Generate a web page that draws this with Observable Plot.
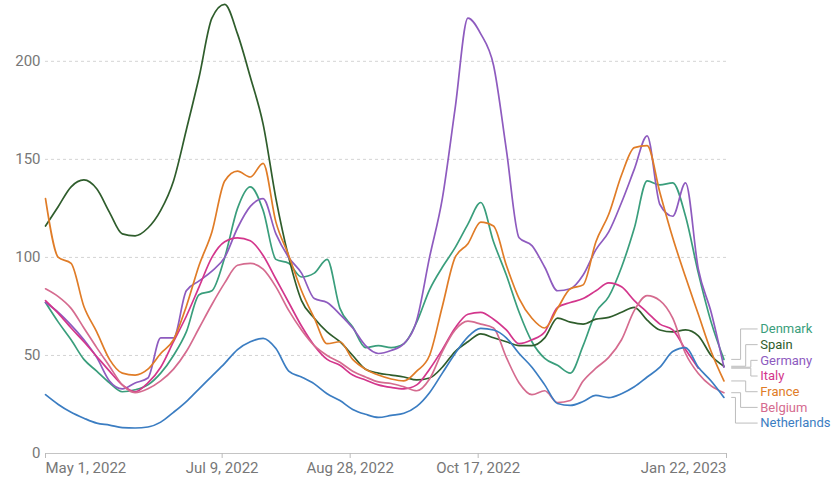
<!DOCTYPE html>
<html>
<head>
<meta charset="utf-8">
<script src="https://cdn.jsdelivr.net/npm/d3@7"></script>
<script src="https://cdn.jsdelivr.net/npm/@observablehq/plot@0.6"></script>
<style>
  html, body { margin: 0; padding: 0; background: #fff; }
  #chart svg { display: block; }
</style>
</head>
<body>
<div id="chart"></div>
<script>
// ---- data (5-day samples starting May 1, 2022) ----
const startDate = "2022-05-01";
const stepDays = 5;
const axisEnd = "2023-01-22";

const countries = ["Denmark", "Spain", "Germany", "Italy", "France", "Belgium", "Netherlands"];
const colors = ["#3a9e7c", "#2f5d2c", "#8e5bbf", "#d3368c", "#e07c27", "#d56b8f", "#3b7dc2"];

const denmark = [77,67,58,48,42,36,31.5,32.5,35,41,50,62,81,83,100,125,136,124,99,97,90,92,99,74,64.5,54,55,54,56,67,83.5,95,105,117,128,108,91,72,57,48.5,45,41,55,72,80,95,115,139,137,138,121,92,67,48];
const spain = [116,126,136,139.5,135,123,112,111,115,124,139,165,192,222,229,214,192,168,130,100,78,69,62,57,50,43,41,40,39,37.5,38.5,44,52,57,61,59,57,55,55,59,69,67,66,68.5,69.4,72,74.5,68,63,62,63,60,50,44.5];
const germany = [77,72,65.5,58,49,37,33,36,38.5,59,59,83,88,93,100,115,126,130,112,100,92,79,77,71,64,55,51,52.5,56,68,100,130,176,222,214,198,155,110,106,95,83,84,91,104,113,128,145,162,127,121,138,94,72,44];
const italy = [78,71.5,64,57,49.5,42,35,31.5,36,44,57,70,85,100,108,110,108.5,101,89,77,65,55,48,45,40,37.5,35,33.7,33,35,43,53,64,71,72,68.5,63,56,58,62,74.5,77,79,83,87,85,78,72,66,63,53,43.5,null,null];
const france = [130,100,97,75,62,48,41,40,43,51,58,75,96,113,139,144,141,148,118,101,83,69,56,57,48,43,40,38,37,42,50,75,100,107,118,116,96,79,69,64,74,84,86,108,122,142,156,157,133,110,90,71,52,37];
const belgium = [84,80,74,64,54,44.5,35,31,33,37,43,52,64,76,87,96,97,94,85,73,63,55,50,46.5,42,39,36.5,35.7,34,32,38,52,63,67.5,66,64,49,36,30,32,26,27,37,43.5,49,58,73,80.5,78,69,51,40.8,34.5,31];
const netherlands = [30,25,21,18,15.5,14.5,13.2,13,13.5,16,21,26.5,33,39.5,46,53,57,58.7,53.5,42,39,35.5,30.5,27,22.5,20,18.4,19.4,20.5,24,31,41,51,59.5,63.8,63,59,51,44,35,25.5,24.5,26.5,29.6,28.5,30.5,34,39,44,52,54,44,37,28.6];

const xTicks = ["2022-05-01", "2022-07-09", "2022-08-28", "2022-10-17", "2023-01-22"];
const yTicks = [0, 50, 100, 150, 200];

// ---- build tables ----
const series = [denmark, spain, germany, italy, france, belgium, netherlands];
const t0 = new Date(startDate);
const tEnd = new Date(axisEnd);
const rows = [];
series.forEach((vals, k) => {
  vals.forEach((v, i) => {
    rows.push({country: countries[k], date: d3.utcDay.offset(t0, i * stepDays), value: v == null ? NaN : v});
  });
});

// label placement (resolve overlaps, keep centred on targets)
const gap = 8;
const items = countries.map((c, k) => {
  const vals = series[k].filter(v => v != null);
  return {country: c, last: vals[vals.length - 1]};
}).sort((a, b) => b.last - a.last);
let clusters = items.map(it => ({items: [it]}));
const span = cl => {
  const c = d3.mean(cl.items, d => d.last);
  const h = (cl.items.length - 1) / 2 * gap;
  return {top: c + h, bottom: c - h};
};
let merged = true;
while (merged) {
  merged = false;
  for (let i = 0; i < clusters.length - 1; i++) {
    if (span(clusters[i]).bottom - span(clusters[i + 1]).top < gap) {
      clusters[i].items = clusters[i].items.concat(clusters[i + 1].items);
      clusters.splice(i + 1, 1);
      merged = true;
      break;
    }
  }
}
clusters.forEach(cl => {
  const s = span(cl);
  cl.items.forEach((it, j) => { it.labelY = s.top - j * gap; });
});
const n = items.length;
const leaders = [];
items.forEach((it, r) => {
  const elbow = 10.5 - 2 * Math.abs(r - (n - 2) / 2);
  const xs = d3.utcDay.offset(tEnd, 2);
  const xe = d3.utcHour.offset(tEnd, Math.round(elbow * 24));
  const xf = d3.utcDay.offset(tEnd, 12);
  leaders.push({country: it.country, x: xs, y: it.last});
  leaders.push({country: it.country, x: xe, y: it.last});
  leaders.push({country: it.country, x: xe, y: it.labelY});
  leaders.push({country: it.country, x: xf, y: it.labelY});
  it.x = xf;
});

const tickDates = xTicks.map(d => new Date(d));
const fmt = d3.utcFormat("%b %-d, %Y");
const xAxisOpts = {tickSize: 5, tickPadding: 4, tickFormat: fmt, fontSize: 15, fill: "#777", stroke: "#bbb", label: null};

const chart = Plot.plot({
  width: 832,
  height: 478,
  marginLeft: 45,
  marginRight: 106,
  marginTop: 2,
  marginBottom: 25,
  style: {fontFamily: "Roboto, 'Liberation Sans', sans-serif", background: "#fff", overflow: "visible"},
  x: {type: "utc", domain: [t0, tEnd]},
  y: {domain: [0, 230]},
  color: {domain: countries, range: colors},
  marks: [
    Plot.gridY(yTicks.filter(d => d > 0), {stroke: "#d4d4d4", strokeOpacity: 1, strokeDasharray: "3,3"}),
    Plot.axisY(yTicks, {tickSize: 0, tickPadding: 5, fontSize: 15, fill: "#777", label: null}),
    Plot.ruleY([0], {stroke: "#c4c4c4"}),
    Plot.axisX(tickDates.slice(0, 1), {...xAxisOpts, textAnchor: "start"}),
    Plot.axisX(tickDates.slice(1, -1), xAxisOpts),
    Plot.axisX(tickDates.slice(-1), {...xAxisOpts, textAnchor: "end"}),
    Plot.line(leaders, {x: "x", y: "y", z: "country", stroke: "#bdbdbd", strokeWidth: 1}),
    Plot.line(rows, {x: "date", y: "value", z: "country", stroke: "country", strokeWidth: 1.7, curve: "monotone-x"}),
    Plot.text(items, {x: "x", y: "labelY", text: "country", fill: "country", textAnchor: "start", dx: 3, fontSize: 13})
  ]
});
document.getElementById("chart").appendChild(chart);
</script>
</body>
</html>
